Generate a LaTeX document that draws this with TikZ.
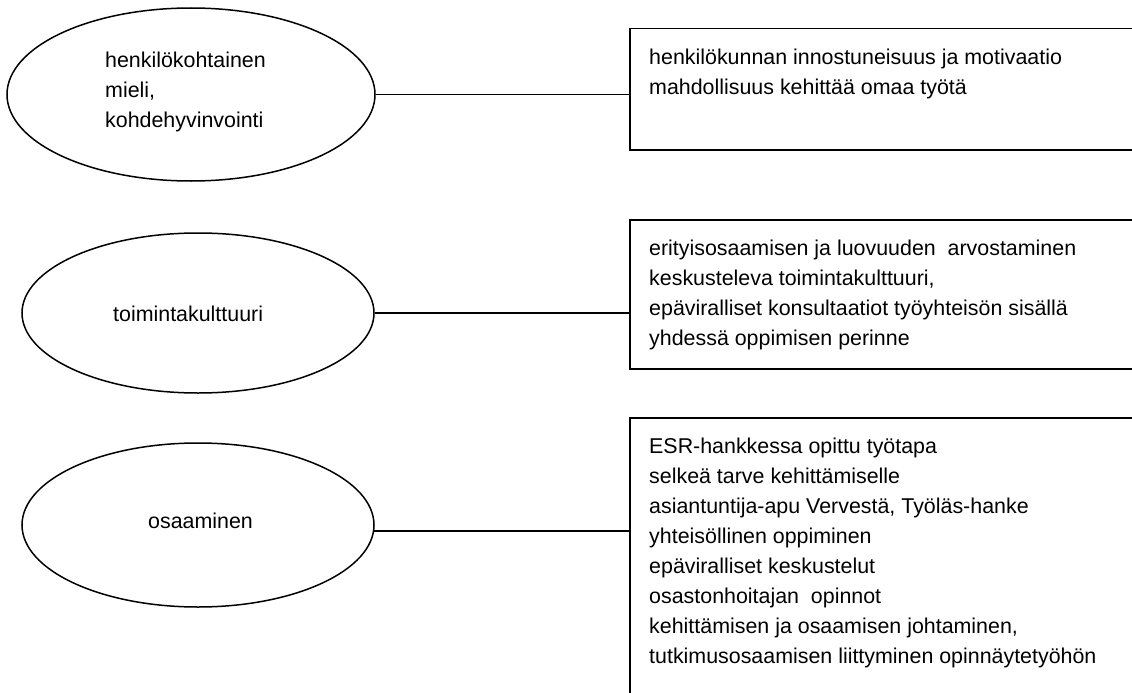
\documentclass[tikz,border=0pt]{standalone}
\usepackage{fontspec}
\setmainfont{Liberation Sans}
\usetikzlibrary{shapes.geometric}
\begin{document}
\begin{tikzpicture}[x=1pt,y=-1pt,
  bubble/.style={draw, ellipse, line width=1.5pt, inner sep=0pt},
  itembox/.style={draw, rectangle, line width=1.5pt, inner sep=0pt, anchor=north west},
  txt/.style={anchor=base west, inner sep=0pt, font=\fontsize{21.4}{30}\selectfont},
  link/.style={line width=1.5pt}]
\useasboundingbox (0,0) rectangle (1132,693);
\clip (0,0) rectangle (1132,693);
\fill[white] (0,0) rectangle (1132,693);

% ellipses
\node[bubble, minimum width=368pt, minimum height=173pt] (e1) at (191,94.5) {};
\node[bubble, minimum width=352pt, minimum height=160pt] (e2) at (198,313) {};
\node[bubble, minimum width=352pt, minimum height=164pt] (e3) at (198,525) {};

% ellipse texts
\node[txt] (t1) at (105,67) {\parbox[t]{200pt}{henkilökohtainen\\mieli,\\kohdehyvinvointi}};
\node[txt] (t2) at (113,321) {toimintakulttuuri};
\node[txt] (t3) at (148,528.5) {osaaminen};

% boxes
\node[itembox, minimum width=520pt, minimum height=121pt] (b1) at (629,28) {};
\node[itembox, minimum width=520pt, minimum height=149pt] (b2) at (629,219) {};
\node[itembox, minimum width=520pt, minimum height=300pt] (b3) at (629,417) {};

% box texts
\node[txt] (d1) at (649,64) {\parbox[t]{470pt}{henkilökunnan innostuneisuus ja motivaatio\\mahdollisuus kehittää omaa työtä}};
\node[txt] (d2) at (649,255) {\parbox[t]{470pt}{erityisosaamisen ja luovuuden\ \ arvostaminen\\keskusteleva toimintakulttuuri,\\epäviralliset konsultaatiot työyhteisön sisällä\\yhdessä oppimisen perinne}};
\node[txt] (d3) at (649,453) {\parbox[t]{470pt}{ESR-hankkessa opittu työtapa\\selkeä tarve kehittämiselle\\asiantuntija-apu Vervestä, Työläs-hanke\\yhteisöllinen oppiminen\\epäviralliset keskustelut\\osastonhoitajan\ \ opinnot\\kehittämisen ja osaamisen johtaminen,\\tutkimusosaamisen liittyminen opinnäytetyöhön}};

% connectors
\draw[link] (e1.0.8) -- (e1.0.8 -| b1.west);
\draw[link] (e2.0.6) -- (e2.0.6 -| b2.west);
\draw[link] (e3.-2.6) -- (e3.-2.6 -| b3.west);
\end{tikzpicture}
\end{document}
